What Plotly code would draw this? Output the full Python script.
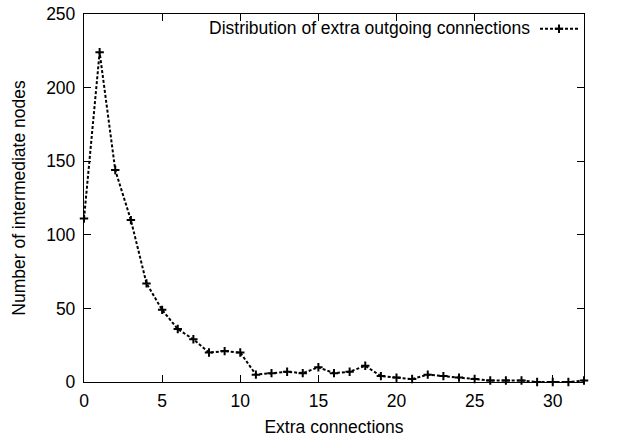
import plotly.graph_objects as go

extra_connections = list(range(0, 33))
node_counts = [111, 224, 144, 110, 67, 49, 36, 29, 20, 21, 20, 5, 6, 7, 6, 10, 6, 7, 11,
               4, 3, 2, 5, 4, 3, 2, 1, 1, 1, 0, 0, 0, 1]
series_name = "Distribution of extra outgoing connections"
x_ticks = [0, 5, 10, 15, 20, 25, 30]
y_ticks = [0, 50, 100, 150, 200, 250]

FONT = "Liberation Sans, Arial, Helvetica, sans-serif"
FS = 17.5
line_style = dict(color="black", width=2, dash="3px,2px")
marker_style = dict(symbol="cross-thin", size=6, color="black", line=dict(color="black", width=2))

fig = go.Figure()
fig.add_trace(go.Scatter(
    x=extra_connections, y=node_counts, mode="lines+markers",
    name=series_name, line=line_style, marker=marker_style,
    showlegend=False, cliponaxis=False,
))

# legend sample (gnuplot style: text then sample on the right)
fig.add_trace(go.Scatter(
    x=[0, 1], y=[0.5, 0.5], mode="lines", line=line_style,
    xaxis="x2", yaxis="y2", showlegend=False, hoverinfo="skip",
))
fig.add_trace(go.Scatter(
    x=[0.5], y=[0.5], mode="markers", marker=marker_style,
    xaxis="x2", yaxis="y2", showlegend=False, hoverinfo="skip",
))

fig.add_annotation(
    text=series_name, xref="paper", yref="paper", x=0.896, y=0.962,
    xanchor="right", yanchor="middle", showarrow=False,
    font=dict(family=FONT, size=FS, color="black"),
)

axis_common = dict(
    showline=True, linecolor="black", linewidth=1.3, mirror="allticks",
    ticks="inside", ticklen=7, tickcolor="black", tickwidth=1,
    showgrid=False, zeroline=False, automargin=False,
    tickfont=dict(family=FONT, size=FS, color="black"),
)

fig.update_layout(
    width=619, height=439,
    margin=dict(l=84, r=35, t=14, b=57),
    paper_bgcolor="white", plot_bgcolor="white",
    xaxis=dict(range=[0, 32], tickvals=x_ticks, **axis_common, ticklabelstandoff=3,
               title=dict(text="Extra connections", font=dict(family=FONT, size=FS, color="black"), standoff=10)),
    yaxis=dict(range=[0, 250], tickvals=y_ticks, **axis_common, ticklabelstandoff=4,
               title=dict(text="Number of intermediate nodes", font=dict(family=FONT, size=FS, color="black"), standoff=16)),
    xaxis2=dict(domain=[0.912, 0.988], range=[0, 1], visible=False, anchor="y2"),
    yaxis2=dict(domain=[0.92, 1.0], range=[0, 1], visible=False, anchor="x2"),
    showlegend=False,
)

fig.write_html("out.html", config={"displayModeBar": False},
               post_script="document.body.style.margin='0';document.body.style.overflow='hidden';")
